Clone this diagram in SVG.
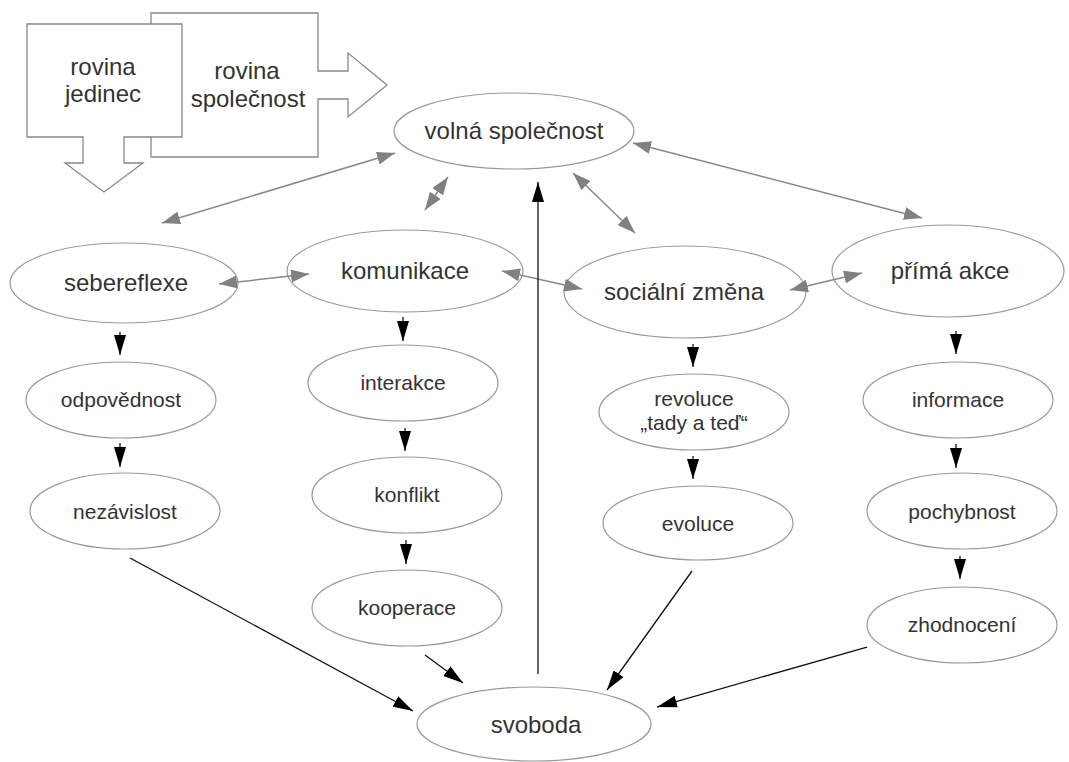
<svg xmlns="http://www.w3.org/2000/svg" width="1069" height="762" viewBox="0 0 1069 762">
<style>
text{font-family:"Liberation Sans",Arial,sans-serif;fill:#333;text-anchor:middle}
.big{font-size:24px}
.small{font-size:21px}
.node ellipse{fill:#fff;stroke:#999;stroke-width:1.2}
.block{fill:#fff;stroke:#888;stroke-width:1.3}
.g{stroke:#888;stroke-width:1.5;fill:none;marker-start:url(#ga);marker-end:url(#ga)}
.k{stroke:#111;stroke-width:1.3;fill:none;marker-end:url(#ka)}
</style>
<defs>
<marker id="ga" viewBox="0 0 18 13" refX="18" refY="6.5" markerWidth="18" markerHeight="13" markerUnits="userSpaceOnUse" orient="auto-start-reverse"><path d="M0,0 L18,6.5 L0,13 z" fill="#808080"/></marker>
<marker id="ka" viewBox="0 0 20 12" refX="20" refY="6" markerWidth="20" markerHeight="12" markerUnits="userSpaceOnUse" orient="auto"><path d="M0,0 L20,6 L0,12 z" fill="#000"/></marker>
</defs>
<rect width="1069" height="762" fill="#fff"/>
<g id="rovina-spolecnost">
<polygon class="block" points="151,13 318,13 318,71 348,71 348,53 387,85 348,117 348,99 318,99 318,157 151,157"/>
<text class="big" x="247" y="79">rovina</text>
<text class="big" x="248" y="107">společnost</text>
</g>
<g id="rovina-jedinec">
<polygon class="block" points="27,24 182,24 182,137 124,137 124,163 143,163 104,192 65,163 83,163 83,137 27,137"/>
<text class="big" x="103" y="75">rovina</text>
<text class="big" x="103" y="102">jedinec</text>
</g>
<g id="volna-spolecnost" class="node"><ellipse cx="514" cy="131" rx="120" ry="38"/><text class="big" x="514" y="139">volná společnost</text></g>
<g id="sebereflexe" class="node"><ellipse cx="124" cy="283" rx="114" ry="40"/><text class="big" x="126" y="291">sebereflexe</text></g>
<g id="komunikace" class="node"><ellipse cx="405" cy="271" rx="118" ry="41"/><text class="big" x="405" y="279">komunikace</text></g>
<g id="socialni-zmena" class="node"><ellipse cx="685" cy="292" rx="121" ry="46"/><text class="big" x="684" y="300">sociální změna</text></g>
<g id="prima-akce" class="node"><ellipse cx="948" cy="271" rx="116" ry="46"/><text class="big" x="950" y="279">přímá akce</text></g>
<g id="odpovednost" class="node"><ellipse cx="121" cy="400" rx="95" ry="38"/><text class="small" x="121" y="407">odpovědnost</text></g>
<g id="nezavislost" class="node"><ellipse cx="125" cy="511" rx="95" ry="38"/><text class="small" x="125" y="519">nezávislost</text></g>
<g id="interakce" class="node"><ellipse cx="403" cy="383" rx="95" ry="38"/><text class="small" x="403" y="390">interakce</text></g>
<g id="konflikt" class="node"><ellipse cx="407" cy="495" rx="95" ry="38"/><text class="small" x="407" y="502">konflikt</text></g>
<g id="kooperace" class="node"><ellipse cx="407" cy="608" rx="95" ry="38"/><text class="small" x="407" y="615">kooperace</text></g>
<g id="revoluce" class="node"><ellipse cx="694" cy="412" rx="95" ry="38"/><text class="small" x="694" y="406">revoluce</text><text class="small" x="694" y="430">„tady a teď“</text></g>
<g id="evoluce" class="node"><ellipse cx="698" cy="523" rx="95" ry="37"/><text class="small" x="698" y="531">evoluce</text></g>
<g id="informace" class="node"><ellipse cx="958" cy="400" rx="95" ry="38"/><text class="small" x="958" y="407">informace</text></g>
<g id="pochybnost" class="node"><ellipse cx="962" cy="511" rx="95" ry="38"/><text class="small" x="962" y="519">pochybnost</text></g>
<g id="zhodnoceni" class="node"><ellipse cx="962" cy="625" rx="95" ry="38"/><text class="small" x="962" y="632">zhodnocení</text></g>
<g id="svoboda" class="node"><ellipse cx="534" cy="724" rx="117" ry="37"/><text class="big" x="536" y="733">svoboda</text></g>
<g id="connectors">
<line class="g" x1="162" y1="223" x2="395" y2="153"/>
<line class="g" x1="425" y1="210" x2="448" y2="177"/>
<line class="g" x1="573" y1="173" x2="635" y2="233"/>
<line class="g" x1="633" y1="143" x2="922" y2="218"/>
<line class="g" x1="219" y1="284" x2="309" y2="274"/>
<line class="g" x1="502" y1="271" x2="582" y2="289"/>
<line class="g" x1="790" y1="290" x2="862" y2="273"/>
<line class="k" x1="120" y1="332" x2="120" y2="355"/>
<line class="k" x1="120" y1="443" x2="120" y2="467"/>
<line class="k" x1="403" y1="317" x2="403" y2="341"/>
<line class="k" x1="405" y1="428" x2="405" y2="451"/>
<line class="k" x1="406" y1="540" x2="406" y2="564"/>
<line class="k" x1="693" y1="344" x2="693" y2="367"/>
<line class="k" x1="693" y1="456" x2="693" y2="479"/>
<line class="k" x1="956" y1="331" x2="956" y2="354"/>
<line class="k" x1="956" y1="444" x2="956" y2="468"/>
<line class="k" x1="960" y1="556" x2="960" y2="579"/>
<line class="k" x1="130" y1="558" x2="413" y2="711"/>
<line class="k" x1="425" y1="655" x2="463" y2="683"/>
<line class="k" x1="692" y1="571" x2="607" y2="690"/>
<line class="k" x1="867" y1="647" x2="657" y2="707"/>
<line class="k" x1="538" y1="674" x2="538" y2="182"/>
</g>
</svg>
